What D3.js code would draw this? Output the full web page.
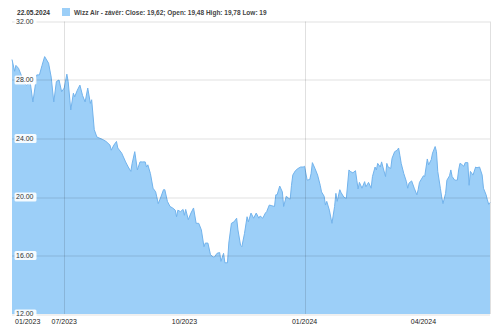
<!DOCTYPE html>
<html>
<head>
<meta charset="utf-8">
<script src="https://cdn.jsdelivr.net/npm/d3@7"></script>
<style>
  body { margin: 0; background: #fff; }
  svg text { font-family: Arial, "Liberation Sans", sans-serif; }
</style>
</head>
<body>
<div id="chart"></div>
<script>
// closing prices (one row per month)
const dates = [
  "2023-05-22","2023-05-24","2023-05-25","2023-05-27","2023-05-29","2023-05-31",
  "2023-06-02","2023-06-05","2023-06-07","2023-06-10","2023-06-12","2023-06-14","2023-06-16","2023-06-19","2023-06-21","2023-06-23","2023-06-25","2023-06-27","2023-06-29",
  "2023-07-01","2023-07-03","2023-07-04","2023-07-06","2023-07-08","2023-07-09","2023-07-11","2023-07-13","2023-07-15","2023-07-17","2023-07-19","2023-07-21","2023-07-22","2023-07-24","2023-07-26","2023-07-30",
  "2023-08-02","2023-08-05","2023-08-06","2023-08-08","2023-08-10","2023-08-11","2023-08-14","2023-08-17","2023-08-19","2023-08-21","2023-08-22","2023-08-24","2023-08-26","2023-08-28","2023-08-30",
  "2023-09-01","2023-09-02","2023-09-03","2023-09-05","2023-09-07","2023-09-09","2023-09-11","2023-09-13","2023-09-15","2023-09-16","2023-09-18","2023-09-20","2023-09-22","2023-09-24","2023-09-25","2023-09-26","2023-09-28","2023-09-30",
  "2023-10-01","2023-10-02","2023-10-04","2023-10-06","2023-10-08","2023-10-10","2023-10-12","2023-10-14","2023-10-16","2023-10-17","2023-10-19","2023-10-21","2023-10-23","2023-10-24","2023-10-26","2023-10-28","2023-10-29","2023-10-31",
  "2023-11-01","2023-11-03","2023-11-04","2023-11-06","2023-11-08","2023-11-10","2023-11-11","2023-11-13","2023-11-14","2023-11-16","2023-11-18","2023-11-19","2023-11-21","2023-11-23","2023-11-25","2023-11-27","2023-11-28","2023-11-30",
  "2023-12-02","2023-12-03","2023-12-05","2023-12-07","2023-12-09","2023-12-10","2023-12-11","2023-12-13","2023-12-15","2023-12-16","2023-12-18","2023-12-20","2023-12-21","2023-12-22","2023-12-23","2023-12-25","2023-12-27","2023-12-29","2023-12-31",
  "2024-01-01","2024-01-03","2024-01-05","2024-01-06","2024-01-07","2024-01-09","2024-01-11","2024-01-13","2024-01-14","2024-01-16","2024-01-17","2024-01-18","2024-01-20","2024-01-22","2024-01-24","2024-01-25","2024-01-26","2024-01-28","2024-01-29","2024-01-31",
  "2024-02-02","2024-02-04","2024-02-05","2024-02-07","2024-02-09","2024-02-10","2024-02-11","2024-02-12","2024-02-14","2024-02-16","2024-02-17","2024-02-19","2024-02-21","2024-02-22","2024-02-24","2024-02-25","2024-02-26","2024-02-28","2024-02-29",
  "2024-03-01","2024-03-03","2024-03-04","2024-03-05","2024-03-07","2024-03-08","2024-03-10","2024-03-12","2024-03-13","2024-03-14","2024-03-15","2024-03-17","2024-03-19","2024-03-20","2024-03-21","2024-03-23","2024-03-25","2024-03-27","2024-03-28","2024-03-29","2024-03-31",
  "2024-04-01","2024-04-02","2024-04-04","2024-04-05","2024-04-07","2024-04-08","2024-04-10","2024-04-11","2024-04-12","2024-04-14","2024-04-15","2024-04-16","2024-04-18","2024-04-19","2024-04-21","2024-04-22","2024-04-23","2024-04-25","2024-04-27","2024-04-28","2024-04-29","2024-04-30",
  "2024-05-02","2024-05-03","2024-05-05","2024-05-06","2024-05-07","2024-05-09","2024-05-11","2024-05-12","2024-05-14","2024-05-16","2024-05-17","2024-05-19","2024-05-20","2024-05-21","2024-05-22"
]
const closes = [
  29.4,28.6,29.0,28.8,28.35,27.8,
  27.65,27.8,26.5,28.35,28.35,29.0,29.6,29.15,28.2,26.5,27.9,28.0,27.2,
  27.45,28.4,27.9,25.95,27.1,26.85,27.3,27.65,26.95,26.5,27.45,26.4,26.65,24.6,24.1,23.95,
  23.8,23.55,23.2,23.55,23.8,23.35,23.0,22.4,22.05,21.75,22.3,23.1,21.85,22.4,22.4,
  22.4,22.05,22.2,21.6,20.6,20.35,19.55,20.0,20.5,20.5,19.7,19.35,19.25,19.1,18.65,19.1,19.0,19.15,
  18.75,19.15,18.45,18.9,19.25,18.2,18.2,17.75,16.6,16.85,16.85,16.05,15.9,15.9,16.15,16.2,15.6,16.15,
  15.5,15.5,16.85,18.2,18.3,18.55,17.75,16.7,16.6,17.5,18.65,18.3,18.9,18.55,18.9,18.55,18.7,18.55,
  18.9,19.0,19.45,19.4,19.35,20.15,20.15,20.75,20.35,19.35,20.05,19.9,19.85,20.8,21.5,21.8,21.95,22.05,22.05,
  22.1,21.15,21.2,21.6,22.35,21.95,21.5,20.8,20.35,20.05,19.45,19.7,19.1,18.2,19.35,20.25,19.7,20.5,20.3,20.0,
  19.9,21.85,21.75,21.65,21.8,21.15,20.55,21.0,20.6,21.05,20.7,21.0,20.6,21.4,22.05,21.85,22.3,22.05,22.4,
  22.05,21.4,22.3,22.05,21.95,22.65,23.1,23.2,23.35,22.85,22.3,21.6,21.05,20.6,20.95,21.1,20.6,20.15,20.5,21.0,21.3,
  21.45,21.4,22.6,22.2,22.55,23.0,23.45,23.1,21.75,20.6,20.0,19.55,20.25,21.15,21.45,21.85,21.4,21.15,21.15,21.85,22.3,22.25,
  22.1,22.35,22.35,20.8,21.75,21.5,22.05,22.0,22.05,21.5,20.6,20.15,19.8,19.5,19.62
]

const yTicks = [12, 16, 20, 24, 28, 32]
const xTickDates = ["2023-05-22", "2023-07-01", "2023-10-01", "2024-01-01", "2024-04-01"]
const xTickLabels = ["01/2023", "07/2023", "10/2023", "01/2024", "04/2024"]
const gridDates = ["2023-07-01", "2024-01-01"]
const headerDate = "22.05.2024"
const legendLabel = "Wizz Air - závěr: Close: 19,62; Open: 19,48 High: 19,78 Low: 19"

const W = 500, H = 327
const margin = {top: 21.5, right: 10, bottom: 13, left: 12}
const width = W - margin.left - margin.right,
      height = H - margin.top - margin.bottom

const parseDate = d3.timeParse("%Y-%m-%d")
const data = dates.map((d, i) => ({date: parseDate(d), close: closes[i]}))

const svg = d3.select("#chart")
  .append("svg")
    .attr("width", W)
    .attr("height", H)

const g = svg.append("g")
  .attr("transform", `translate(${margin.left},${margin.top})`)

const x = d3.scaleTime()
  .domain([parseDate(dates[0]), parseDate(dates[dates.length - 1])])
  .range([0, width])

const y = d3.scaleLinear()
  .domain([12, 32])
  .range([height, 0])

// area + line
g.append("path")
  .datum(data)
  .attr("fill", "#9ccff8")
  .attr("d", d3.area()
    .x(d => x(d.date))
    .y0(height)
    .y1(d => y(d.close)))

g.append("path")
  .datum(data)
  .attr("fill", "none")
  .attr("stroke", "#72b3ec")
  .attr("stroke-width", 1)
  .attr("d", d3.line()
    .x(d => x(d.date))
    .y(d => y(d.close)))

// grid lines on top, semi transparent so they show through the fill
g.selectAll(".hgrid")
  .data(yTicks)
  .enter()
  .append("line")
    .attr("x1", 0).attr("x2", width)
    .attr("y1", d => Math.round(y(d)) + 0.5)
    .attr("y2", d => Math.round(y(d)) + 0.5)
    .attr("stroke", "#000")
    .attr("stroke-opacity", 0.12)

g.selectAll(".vgrid")
  .data(gridDates)
  .enter()
  .append("line")
    .attr("x1", d => Math.round(x(parseDate(d))) + 0.5)
    .attr("x2", d => Math.round(x(parseDate(d))) + 0.5)
    .attr("y1", 0).attr("y2", height)
    .attr("stroke", "#000")
    .attr("stroke-opacity", 0.12)

// right border of the plot
g.append("line")
  .attr("x1", width + 0.5).attr("x2", width + 0.5)
  .attr("y1", 0).attr("y2", height)
  .attr("stroke", "#000")
  .attr("stroke-opacity", 0.12)

// y labels with white boxes, inside the plot
const yl = g.selectAll(".ylab")
  .data(yTicks)
  .enter()
  .append("g")
    .attr("transform", d => `translate(4,${y(d)})`)

yl.append("rect")
  .attr("x", -1.5).attr("y", -4.5)
  .attr("width", 22).attr("height", 9)
  .attr("rx", 1.5)
  .attr("fill", "#fff")
  .attr("fill-opacity", 0.9)

yl.append("text")
  .attr("x", 0)
  .attr("y", 0)
  .attr("dy", "0.35em")
  .style("font-size", "7px")
  .style("fill", "#333")
  .text(d => d3.format(".2f")(d))

// x labels
g.selectAll(".xlab")
  .data(xTickDates)
  .enter()
  .append("text")
    .attr("x", (d, i) => i === 0 ? 3 : x(parseDate(d)))
    .attr("y", height + 9.5)
    .attr("text-anchor", (d, i) => i === 0 ? "start" : "middle")
    .style("font-size", "7px")
    .style("fill", "#222")
    .text((d, i) => xTickLabels[i])

// header: date and legend
svg.append("text")
  .attr("x", 17).attr("y", 15)
  .style("font-size", "6.6px")
  .style("font-weight", "bold")
  .style("fill", "#333")
  .text(headerDate)

svg.append("rect")
  .attr("x", 62).attr("y", 8)
  .attr("width", 8).attr("height", 8)
  .attr("fill", "#9ccff8")

svg.append("text")
  .attr("x", 74).attr("y", 15)
  .style("font-size", "6.5px")
  .style("font-weight", "bold")
  .style("fill", "#444")
  .text(legendLabel)
</script>
</body>
</html>
